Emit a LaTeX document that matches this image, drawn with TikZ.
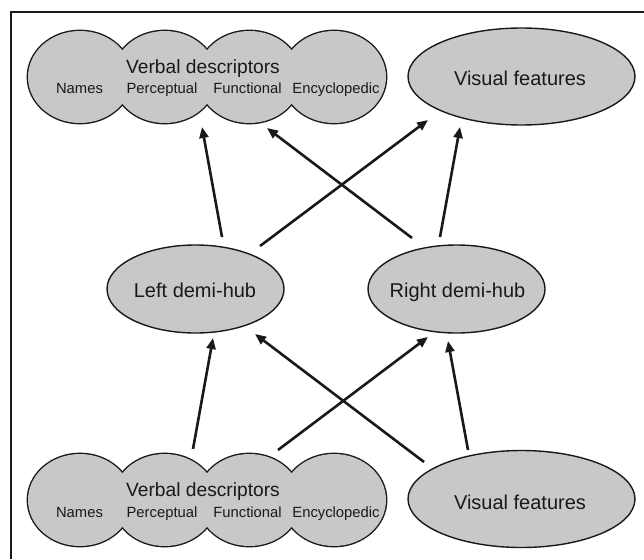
\documentclass[tikz,border=0pt]{standalone}
\usepackage{fontspec}
\setmainfont{Liberation Sans}
\usetikzlibrary{arrows.meta,shapes.geometric}
\definecolor{bubble}{RGB}{200,200,200}
\definecolor{ink}{RGB}{25,25,25}
\begin{document}
\begin{tikzpicture}[x=1pt,y=-1pt,
  blob/.style={ellipse, draw=ink, line width=1.4pt, fill=bubble, inner sep=0pt},
  big/.style={font=\fontsize{20}{24}\selectfont, text=ink, anchor=base, inner sep=0pt},
  title/.style={font=\fontsize{19.2}{23}\selectfont, text=ink, anchor=base, inner sep=0pt},
  small/.style={font=\fontsize{14.8}{18}\selectfont, text=ink, anchor=base, inner sep=0pt},
  arr/.style={-{Triangle[length=11pt,width=9pt]}, line width=2.6pt, draw=ink},
  cluster/.style={rectangle, minimum width=360pt, minimum height=94pt, inner sep=0pt},
]
\useasboundingbox (0,0) rectangle (644,559);
\fill[white] (0,0) rectangle (644,559);
\draw[ink, line width=2.3pt] (11,559) -- (11,12) -- (644,12);

% four overlapping bubbles forming one outlined cluster
\newcommand\bubblecluster[1]{%
  \foreach \cx in {80,164.67,249.33,334}
    \draw[ink, line width=2.8pt] (\cx,#1) ellipse [x radius=52, y radius=46];
  \foreach \cx in {80,164.67,249.33,334}
    \fill[bubble] (\cx,#1) ellipse [x radius=52, y radius=46];
}

% top row
\bubblecluster{77}
\node[cluster] (vtop) at (207,77) {};
\node[title] (vtopT) at (203,73.5) {Verbal descriptors};
\node[small] (vtopA) at (79.5,94) {Names};
\node[small] (vtopB) at (162,94) {Perceptual};
\node[small] (vtopC) at (247.5,94) {Functional};
\node[small] (vtopD) at (336,94) {Encyclopedic};

\node[blob, minimum width=227pt, minimum height=97pt] (vftop) at (521.5,76.5) {};
\node[big] (vftopT) at (520,85) {Visual features};

% middle row
\node[blob, minimum width=177pt, minimum height=88pt] (hubL) at (195.5,289) {};
\node[big] (hubLT) at (195,297) {Left demi-hub};
\node[blob, minimum width=177pt, minimum height=88pt] (hubR) at (456.5,289) {};
\node[big] (hubRT) at (457.5,297) {Right demi-hub};

% bottom row
\bubblecluster{500}
\node[cluster] (vbot) at (207,500) {};
\node[title] (vbotT) at (203,496) {Verbal descriptors};
\node[small] (vbotA) at (79.5,517) {Names};
\node[small] (vbotB) at (162,517) {Perceptual};
\node[small] (vbotC) at (247.5,517) {Functional};
\node[small] (vbotD) at (336,517) {Encyclopedic};

\node[blob, minimum width=227pt, minimum height=97pt] (vfbot) at (521.5,499) {};
\node[big] (vfbotT) at (520,509) {Visual features};

% connections from the demi-hubs upwards
\draw[arr] ([shift={(26.5,-52)}]hubL.center) -- ([shift={(-5,50)}]vtop.center);
\draw[arr] ([shift={(-44.5,-51)}]hubR.center) -- ([shift={(60,51)}]vtop.center);
\draw[arr] ([shift={(64.5,-43)}]hubL.center) -- ([shift={(-93.5,43.5)}]vftop.center);
\draw[arr] ([shift={(-16.5,-52)}]hubR.center) -- ([shift={(-61.5,50.5)}]vftop.center);

% connections from the bottom row into the demi-hubs
\draw[arr] ([shift={(-14,-51)}]vbot.center) -- ([shift={(17.5,49)}]hubL.center);
\draw[arr] ([shift={(71,-50)}]vbot.center) -- ([shift={(-28.5,48)}]hubR.center);
\draw[arr] ([shift={(-97.5,-37)}]vfbot.center) -- ([shift={(59.5,45)}]hubL.center);
\draw[arr] ([shift={(-53.5,-49)}]vfbot.center) -- ([shift={(-8.5,52)}]hubR.center);
\end{tikzpicture}
\end{document}
